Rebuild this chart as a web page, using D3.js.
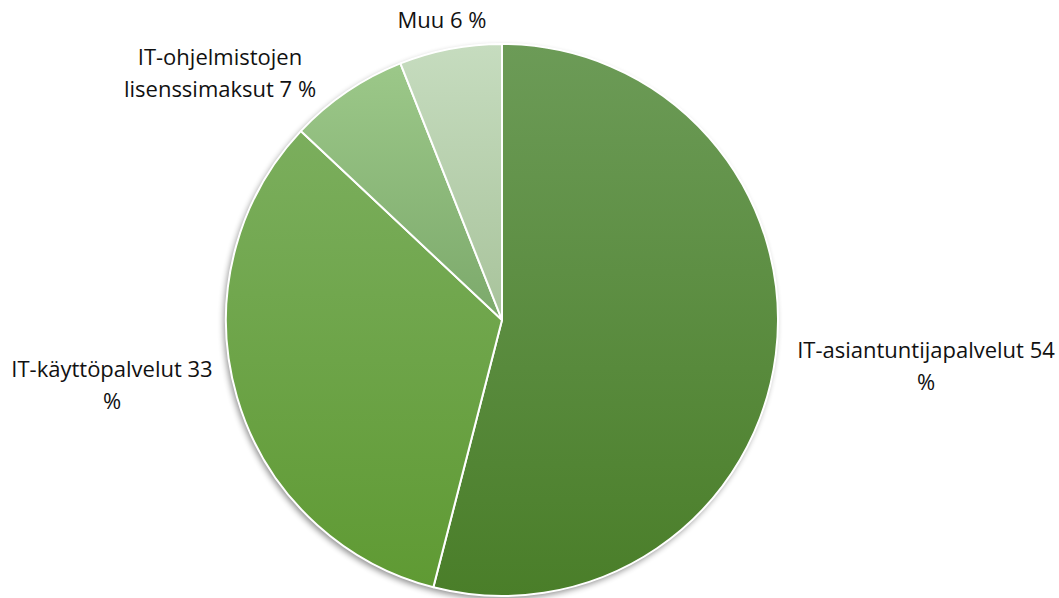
<!DOCTYPE html>
<html>
<head>
<meta charset="utf-8">
<script src="https://cdn.jsdelivr.net/npm/d3@7"></script>
<style>
  html, body { margin: 0; padding: 0; background: #fff; }
  svg { display: block; }
  text { font-family: "Open Sans", "Noto Sans", sans-serif; font-size: 22px; fill: #111; }
</style>
</head>
<body>
<svg id="chart" width="1059" height="598"></svg>
<script>
// Shares of IT spending by category (percent)
const categories = ["IT-asiantuntijapalvelut", "IT-käyttöpalvelut", "IT-ohjelmistojen lisenssimaksut", "Muu"];
const values = [54, 33, 7, 6];
// Label lines as laid out beside the pie
const labelLines = [
  ["IT-asiantuntijapalvelut 54", "%"],
  ["IT-käyttöpalvelut 33", "%"],
  ["IT-ohjelmistojen", "lisenssimaksut 7 %"],
  ["Muu 6 %"]
];
// Gradient stops for each slice: top colour, bottom colour
const topColors = ["#6c9b57", "#7bae5d", "#9cc889", "#c6dcbf"];
const bottomColors = ["#4a7e29", "#5f9a33", "#7ca96b", "#a8c39b"];

const width = 1059, height = 598;
const cx = 502, cy = 320, radius = 276;

const svg = d3.select("#chart");
const defs = svg.append("defs");

const shadow = defs.append("filter").attr("id", "pieShadow")
  .attr("x", "-10%").attr("y", "-10%").attr("width", "120%").attr("height", "120%");
shadow.append("feGaussianBlur").attr("in", "SourceAlpha").attr("stdDeviation", 3).attr("result", "blur");
shadow.append("feOffset").attr("in", "blur").attr("dx", -2).attr("dy", 3).attr("result", "off");
shadow.append("feComponentTransfer").attr("in", "off").attr("result", "soft")
  .append("feFuncA").attr("type", "linear").attr("slope", 0.45);
const merge = shadow.append("feMerge");
merge.append("feMergeNode").attr("in", "soft");
merge.append("feMergeNode").attr("in", "SourceGraphic");

categories.forEach((c, i) => {
  const g = defs.append("linearGradient").attr("id", "grad" + i)
    .attr("x1", 0).attr("y1", 0).attr("x2", 0).attr("y2", 1);
  g.append("stop").attr("offset", "0%").attr("stop-color", topColors[i]);
  g.append("stop").attr("offset", "100%").attr("stop-color", bottomColors[i]);
});

const pie = d3.pie().sort(null).value(d => d);
const arcs = pie(values);
const arc = d3.arc().innerRadius(0).outerRadius(radius);

const g = svg.append("g").attr("transform", `translate(${cx},${cy})`);

// Shadowed backing disc
g.append("circle").attr("r", radius).attr("fill", "#fff").attr("filter", "url(#pieShadow)");

g.selectAll("path.slice")
  .data(arcs)
  .join("path")
  .attr("class", "slice")
  .attr("d", arc)
  .attr("fill", (d, i) => `url(#grad${i})`)
  .attr("stroke", "#fff")
  .attr("stroke-width", 2)
  .attr("stroke-linejoin", "round");

// Label anchor positions (centre of text block, first baseline)
const labelPos = [
  { x: 926, y: 358 },
  { x: 112, y: 377 },
  { x: 220, y: 65 },
  { x: 442, y: 28 }
];
const lineH = 32;

svg.selectAll("text.lbl")
  .data(labelLines)
  .join("text")
  .attr("class", "lbl")
  .attr("text-anchor", "middle")
  .each(function (lines, i) {
    const t = d3.select(this);
    lines.forEach((ln, j) => {
      t.append("tspan").attr("x", labelPos[i].x).attr("y", labelPos[i].y + j * lineH).text(ln);
    });
  });
</script>
</body>
</html>
